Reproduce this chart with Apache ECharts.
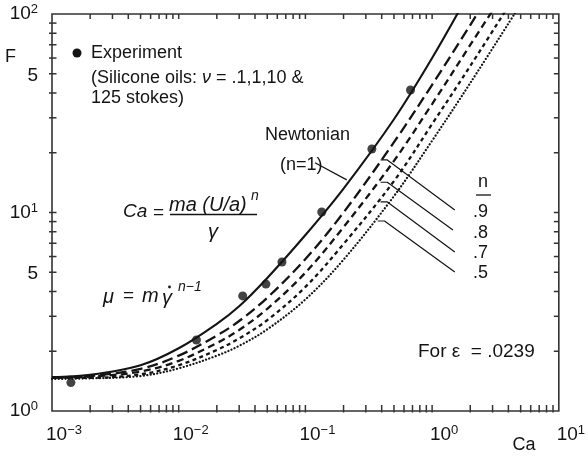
<!DOCTYPE html>
<html>
<head>
<meta charset="utf-8">
<script src="https://cdn.jsdelivr.net/npm/echarts@6/dist/echarts.min.js"></script>
<style>
  html, body { margin: 0; padding: 0; background: #fff; }
  #chart { width: 588px; height: 459px; }
</style>
</head>
<body>
<div id="chart"></div>
<script>
// Capillary numbers at which the model curves are sampled
const caGrid = [0.001, 0.002, 0.005, 0.01, 0.02, 0.03, 0.05, 0.1, 0.2, 0.5, 1, 2, 5];
// Dimensionless force F for each power-law index n
const fN10 = [1.48, 1.52, 1.70, 2.07, 2.75, 3.37, 4.68, 7.70, 13.2, 29.5, 60.0, 131, null];
const fN09 = [1.48, 1.50, 1.63, 1.90, 2.40, 2.84, 3.72, 5.83, 10.0, 22.6, 44.0, 88.0, 225];
const fN08 = [1.47, 1.49, 1.58, 1.79, 2.20, 2.56, 3.27, 4.98, 8.44, 18.2, 35.2, 69.8, 172];
const fN07 = [1.47, 1.47, 1.53, 1.70, 2.03, 2.32, 2.87, 4.22, 6.94, 14.4, 27.9, 54.7, 137];
const fN05 = [1.45, 1.46, 1.50, 1.64, 1.90, 2.13, 2.58, 3.65, 5.79, 12.1, 23.0, 44.9, 112];

// Measurements with silicone oils
const expCa = [0.00141, 0.0138, 0.0320, 0.0488, 0.0653, 0.1346, 0.3346, 0.675];
const expF  = [1.39, 2.28, 3.80, 4.36, 5.63, 10.06, 20.9, 41.4];

// Axis ranges, tick values and labelled half-decades
const caRange = [0.001, 10];
const fRange = [1, 100];
const caTicks = [
  0.002, 0.003, 0.004, 0.005, 0.006, 0.007, 0.008, 0.009,
  0.01, 0.02, 0.03, 0.04, 0.05, 0.06, 0.07, 0.08, 0.09,
  0.1, 0.2, 0.3, 0.4, 0.5, 0.6, 0.7, 0.8, 0.9,
  1, 2, 3, 4, 5, 6, 7, 8, 9
];
const fTicks = [2, 3, 4, 5, 6, 7, 8, 9, 10, 20, 30, 40, 50, 60, 70, 80, 90];
const fHalfDecadeLabels = [5, 50];

// Leader lines from curve labels, in (Ca, F) units
const leaderNewtonian = [[0.119, 17.8], [0.212, 14.6]];
const leaderN09 = [[0.392, 18.4], [0.443, 18.4], [1.51, 10.3]];
const leaderN08 = [[0.392, 14.2], [0.443, 14.2], [1.46, 8.16]];
const leaderN07 = [[0.392, 11.3], [0.443, 11.3], [1.51, 6.32]];
const leaderN05 = [[0.372, 9.06], [0.421, 9.06], [1.51, 5.01]];

const INK = '#141414';
const AXIS = '#333';
const FONT = '"Liberation Sans", Arial, Helvetica, sans-serif';

const pairs = (xs, ys) => xs.map((x, i) => [x, ys[i]]).filter(p => p[1] != null);

function powLabel(v) {
  const e = Math.round(Math.log10(v));
  return '{b|10}{s|' + (e < 0 ? '\u2212' + (-e) : String(e)) + '}';
}
const powRich = {
  b: { fontSize: 19, lineHeight: 22, fontFamily: FONT, color: INK },
  s: { fontSize: 13, lineHeight: 13, fontFamily: FONT, color: INK, verticalAlign: 'top' }
};

function curve(name, data, dash, width, cap) {
  return {
    name, type: 'line', data, showSymbol: false, smooth: 0.35, clip: true,
    silent: true, z: 3,
    lineStyle: { color: INK, width: width, type: dash, cap: cap || 'butt' }
  };
}
function leader(data) {
  return {
    type: 'line', data, showSymbol: false, silent: true, clip: false, z: 4,
    lineStyle: { color: INK, width: 1.2 }
  };
}
const tickLine = (x1, y1, x2, y2) => ({
  type: 'line', shape: { x1, y1, x2, y2 },
  style: { stroke: AXIS, lineWidth: 1.5, fill: null }
});

// Ca tick marks on the bottom and top frame edges; the F value only picks a row inside the frame
const caTickSeries = {
  type: 'custom', coordinateSystem: 'cartesian2d', silent: true, clip: false, z: 6,
  data: caTicks.map(v => [v, 10]),
  renderItem: (params, api) => {
    const x = api.coord([api.value(0), api.value(1)])[0];
    const cs = params.coordSys;
    const top = cs.y, bot = cs.y + cs.height;
    return { type: 'group', children: [
      tickLine(x, bot - 6, x, bot + 1.5),
      tickLine(x, top, x, top + 5)
    ] };
  }
};
// F tick marks on the left and right frame edges
const fTickSeries = {
  type: 'custom', coordinateSystem: 'cartesian2d', silent: true, clip: false, z: 6,
  data: fTicks.map(v => [caRange[0], v]),
  renderItem: (params, api) => {
    const y = api.coord([api.value(0), api.value(1)])[1];
    const cs = params.coordSys;
    const left = cs.x, right = cs.x + cs.width;
    return { type: 'group', children: [
      tickLine(left - 3, y, left + 4.5, y),
      tickLine(right - 5, y, right, y)
    ] };
  }
};

const chart = echarts.init(document.getElementById('chart'), null, { renderer: 'canvas' });

chart.setOption({
  animation: false,
  backgroundColor: '#fff',
  grid: {
    left: 52, right: 10, top: 14, bottom: 48,
    show: true, borderColor: AXIS, borderWidth: 1.6, backgroundColor: 'transparent'
  },
  xAxis: {
    type: 'log', logBase: 10, min: caRange[0], max: caRange[1],
    axisLine: { show: false }, axisTick: { show: false }, splitLine: { show: false },
    axisLabel: {
      margin: 13, padding: [0, 0, 0, 24],
      formatter: powLabel, rich: powRich, showMinLabel: true, showMaxLabel: true
    }
  },
  yAxis: {
    type: 'log', logBase: 10, min: fRange[0], max: fRange[1],
    axisLine: { show: false }, axisTick: { show: false }, splitLine: { show: false },
    axisLabel: { margin: 14, formatter: powLabel, rich: powRich }
  },
  series: [
    caTickSeries,
    fTickSeries,
    curve('n=1', pairs(caGrid, fN10), 'solid', 2.1),
    curve('n=.9', pairs(caGrid, fN09), [11, 5], 2.3),
    curve('n=.8', pairs(caGrid, fN08), [7, 4.5], 2.3),
    curve('n=.7', pairs(caGrid, fN07), [4, 3.5], 2.3),
    curve('n=.5', pairs(caGrid, fN05), [0.1, 3.3], 2.2, 'round'),
    {
      name: 'Experiment', type: 'scatter', data: pairs(expCa, expF),
      symbol: 'circle', symbolSize: 9, z: 5, silent: true,
      itemStyle: { color: INK }
    },
    leader(leaderNewtonian),
    leader(leaderN09),
    leader(leaderN08),
    leader(leaderN07),
    leader(leaderN05)
  ]
});

// Text annotations
const L = chart.convertToPixel({ xAxisIndex: 0 }, caRange[0]);
const py = v => chart.convertToPixel({ yAxisIndex: 0 }, v);
const g = [];

function txt(text, x, y, opt) {
  const st = Object.assign({
    text, x, y, fill: INK, fontSize: 18, fontFamily: FONT,
    align: 'left', textAlign: 'left', verticalAlign: 'middle', textVerticalAlign: 'middle'
  }, opt || {});
  g.push({ type: 'text', silent: true, z: 10, style: st });
}
function rule(x1, y1, x2, y2) {
  g.push({ type: 'line', silent: true, z: 10, shape: { x1, y1, x2, y2 },
    style: { stroke: INK, lineWidth: 1.3 } });
}

// Half-decade labels on the F axis
fHalfDecadeLabels.forEach(v => {
  txt(String(v / Math.pow(10, Math.floor(Math.log10(v)))), L - 14, py(v) + 2,
      { fontSize: 19, align: 'right', textAlign: 'right' });
});

// Axis titles
txt('F', 5, 57, { fontSize: 18 });
txt('Ca', 524, 445, { fontSize: 18, align: 'center', textAlign: 'center' });

// Legend for the measured points
g.push({ type: 'circle', silent: true, z: 10, shape: { cx: 77, cy: 53, r: 4.5 }, style: { fill: INK } });
txt('Experiment', 91, 53);
txt('(Silicone oils: {i|\u03bd} = .1,1,10 &', 91, 78, {
  rich: { i: { fontStyle: 'italic', fontSize: 18, fontFamily: FONT, fill: INK } }
});
txt('125 stokes)', 91, 98);

// Newtonian curve label
txt('Newtonian', 265, 135);
txt('(n=1)', 280, 165);

// Index labels for the non-Newtonian curves
txt('n', 483, 182, { align: 'center', textAlign: 'center' });
rule(476, 195, 491, 195);
txt('.9', 473, 212);
txt('.8', 473, 233);
txt('.7', 473, 253);
txt('.5', 473, 273);

// Capillary number definition
const it = { fontStyle: 'italic', fontSize: 20 };
txt('Ca', 123, 212, { fontStyle: 'italic', fontSize: 19 });
txt('=', 153, 213, { fontSize: 19 });
txt('ma (U/a)', 169, 205, it);
txt('n', 251, 196, { fontStyle: 'italic', fontSize: 14 });
rule(170, 214.5, 257, 214.5);
txt('\u03b3', 213, 232, Object.assign({ align: 'center', textAlign: 'center' }, it));

// Power-law viscosity
txt('\u03bc', 103, 297, it);
txt('=', 123, 296, { fontSize: 19 });
txt('m', 142, 296, it);
txt('\u03b3', 162, 298, it);
g.push({ type: 'circle', silent: true, z: 10, shape: { cx: 169.5, cy: 287, r: 1.4 }, style: { fill: INK } });
txt('n\u22121', 178, 287, { fontStyle: 'italic', fontSize: 14 });

// Eccentricity note
txt('For \u03b5  = .0239', 418, 352, { fontSize: 19 });

chart.setOption({ graphic: { elements: g } });
</script>
</body>
</html>
